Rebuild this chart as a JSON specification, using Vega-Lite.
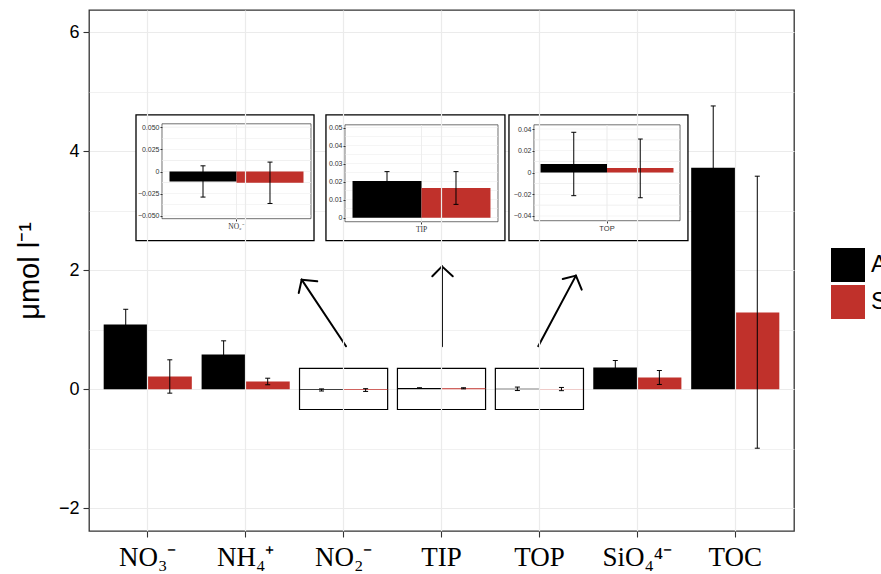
{
  "$schema": "https://vega.github.io/schema/vega-lite/v6.json",
  "width": 705,
  "height": 521,
  "autosize": "none",
  "padding": {"left": 89, "top": 10, "right": 87, "bottom": 43},
  "background": "white",
  "config": {
    "view": {"stroke": "#333333", "strokeWidth": 1.3},
    "font": "Liberation Sans"
  },
  "datasets": {
    "bars": [
      {"cat": "NO₃⁻", "series": "Autumn", "mean": 1.087, "lo": 0.83, "hi": 1.344},
      {"cat": "NO₃⁻", "series": "Spring", "mean": 0.215, "lo": -0.065, "hi": 0.495},
      {"cat": "NH₄⁺", "series": "Autumn", "mean": 0.584, "lo": 0.354, "hi": 0.814},
      {"cat": "NH₄⁺", "series": "Spring", "mean": 0.131, "lo": 0.076, "hi": 0.186},
      {"cat": "NO₂⁻", "series": "Autumn", "mean": -0.0112, "lo": -0.0288, "hi": 0.0064},
      {"cat": "NO₂⁻", "series": "Spring", "mean": -0.0127, "lo": -0.036, "hi": 0.0106},
      {"cat": "TIP", "series": "Autumn", "mean": 0.0204, "lo": 0.0152, "hi": 0.0256},
      {"cat": "TIP", "series": "Spring", "mean": 0.0165, "lo": 0.0074, "hi": 0.0256},
      {"cat": "TOP", "series": "Autumn", "mean": 0.0078, "lo": -0.0213, "hi": 0.037},
      {"cat": "TOP", "series": "Spring", "mean": 0.0041, "lo": -0.0232, "hi": 0.0308},
      {"cat": "SiO₄⁴⁻", "series": "Autumn", "mean": 0.366, "lo": 0.249, "hi": 0.483},
      {"cat": "SiO₄⁴⁻", "series": "Spring", "mean": 0.198, "lo": 0.081, "hi": 0.315},
      {"cat": "TOC", "series": "Autumn", "mean": 3.72, "lo": 2.68, "hi": 4.76},
      {"cat": "TOC", "series": "Spring", "mean": 1.289, "lo": -0.99, "hi": 3.58}
    ],
    "boxes": [
      {"cat": "NO₂⁻", "lo": -0.34, "hi": 0.35},
      {"cat": "TIP", "lo": -0.34, "hi": 0.35},
      {"cat": "TOP", "lo": -0.34, "hi": 0.35}
    ],
    "frames": [
      {"inset": "NO2", "kind": "outer", "x": 0.88, "x2": 2.698, "y": 2.497, "y2": 4.611},
      {"inset": "TIP", "kind": "outer", "x": 2.82, "x2": 4.648, "y": 2.497, "y2": 4.611},
      {"inset": "TOP", "kind": "outer", "x": 4.689, "x2": 6.517, "y": 2.497, "y2": 4.611},
      {"inset": "NO2", "kind": "inner", "x": 1.1455, "x2": 2.667, "y": 2.866, "y2": 4.46},
      {"inset": "TIP", "kind": "inner", "x": 3.014, "x2": 4.577, "y": 2.815, "y2": 4.443},
      {"inset": "TOP", "kind": "inner", "x": 4.944, "x2": 6.436, "y": 2.832, "y2": 4.443}
    ],
    "arrows": [
      {"x": 3.025, "y": 0.723, "x2": 2.572, "y2": 1.842},
      {"x": 2.572, "y": 1.842, "x2": 2.542, "y2": 1.619},
      {"x": 2.572, "y": 1.842, "x2": 2.731, "y2": 1.814},
      {"x": 4.005, "y": 0.723, "x2": 4.005, "y2": 2.065},
      {"x": 4.005, "y": 2.065, "x2": 3.906, "y2": 1.898},
      {"x": 4.005, "y": 2.065, "x2": 4.115, "y2": 1.898},
      {"x": 4.988, "y": 0.723, "x2": 5.373, "y2": 1.909},
      {"x": 5.373, "y": 1.909, "x2": 5.238, "y2": 1.854},
      {"x": 5.373, "y": 1.909, "x2": 5.432, "y2": 1.674}
    ],
    "igrid": [
      {"cat": "NO₂⁻", "v": -0.05}, {"cat": "NO₂⁻", "v": -0.0375}, {"cat": "NO₂⁻", "v": -0.025}, {"cat": "NO₂⁻", "v": -0.0125},
      {"cat": "NO₂⁻", "v": 0}, {"cat": "NO₂⁻", "v": 0.0125}, {"cat": "NO₂⁻", "v": 0.025}, {"cat": "NO₂⁻", "v": 0.0375}, {"cat": "NO₂⁻", "v": 0.05},
      {"cat": "TIP", "v": 0}, {"cat": "TIP", "v": 0.005}, {"cat": "TIP", "v": 0.01}, {"cat": "TIP", "v": 0.015}, {"cat": "TIP", "v": 0.02},
      {"cat": "TIP", "v": 0.025}, {"cat": "TIP", "v": 0.03}, {"cat": "TIP", "v": 0.035}, {"cat": "TIP", "v": 0.04}, {"cat": "TIP", "v": 0.045}, {"cat": "TIP", "v": 0.05},
      {"cat": "TOP", "v": -0.04}, {"cat": "TOP", "v": -0.03}, {"cat": "TOP", "v": -0.02}, {"cat": "TOP", "v": -0.01}, {"cat": "TOP", "v": 0},
      {"cat": "TOP", "v": 0.01}, {"cat": "TOP", "v": 0.02}, {"cat": "TOP", "v": 0.03}, {"cat": "TOP", "v": 0.04}
    ]
  },
  "resolve": {
    "scale": {"x": "independent", "y": "independent", "xOffset": "independent"},
    "axis": {"x": "independent", "y": "independent"}
  },
  "layer": [
    {
      "layer": [
        {
          "data": {"name": "boxes"},
          "mark": {"type": "rect", "fill": "white", "stroke": "black", "strokeWidth": 1.2},
          "encoding": {
            "x": {"field": "cat", "type": "nominal", "sort": null,
              "scale": {"domain": ["NO₃⁻", "NH₄⁺", "NO₂⁻", "TIP", "TOP", "SiO₄⁴⁻", "TOC"], "paddingInner": 0.1, "paddingOuter": 0.15},
              "axis": {"title": null, "domain": false, "grid": true, "gridColor": "#ebebeb", "gridWidth": 1.2, "bandPosition": 0.5,
                "tickSize": 6, "tickColor": "#333333", "tickWidth": 1.1, "labelFont": "Liberation Serif", "labelFontSize": 27,
                "labelColor": "black", "labelPadding": 7, "labelAngle": 0, "labelOverlap": false}},
            "y": {"field": "lo", "type": "quantitative",
              "scale": {"domain": [-2.381, 6.372], "nice": false, "zero": false},
              "axis": {"title": "μmol l⁻¹", "titleFont": "Liberation Sans", "titleFontSize": 29, "titleFontWeight": "normal",
                "titleColor": "black", "titlePadding": 14, "values": [-2, -1, 0, 1, 2, 3, 4, 5, 6],
                "labelExpr": "datum.value % 2 == 0 ? format(datum.value, 'd') : ''", "domain": false, "grid": true,
                "gridColor": "#ebebeb", "gridWidth": {"condition": {"test": "datum.value % 2 != 0", "value": 0.7}, "value": 1.2},
                "tickSize": 6, "tickColor": "#333333", "tickWidth": 1.1,
                "tickOpacity": {"condition": {"test": "datum.value % 2 != 0", "value": 0}, "value": 1},
                "labelFont": "Liberation Sans", "labelFontSize": 18, "labelColor": "black", "labelPadding": 4, "labelOverlap": false}},
            "y2": {"field": "hi"}
          }
        },
        {
          "data": {"name": "bars"},
          "mark": {"type": "bar"},
          "encoding": {
            "x": {"field": "cat", "type": "nominal", "sort": null, "scale": {"domain": ["NO₃⁻", "NH₄⁺", "NO₂⁻", "TIP", "TOP", "SiO₄⁴⁻", "TOC"], "paddingInner": 0.1, "paddingOuter": 0.15}},
            "xOffset": {"field": "series", "type": "nominal"},
            "y": {"field": "mean", "type": "quantitative", "scale": {"domain": [-2.381, 6.372], "nice": false, "zero": false}},
            "color": {"field": "series", "type": "nominal",
              "scale": {"domain": ["Autumn", "Spring"], "range": ["#000000", "#c0312b"]},
              "legend": {"title": null, "orient": "none", "legendX": 742, "legendY": 238, "symbolType": "square",
                "symbolSize": 1156, "symbolStrokeWidth": 0, "symbolOpacity": 1, "labelFontSize": 24,
                "labelFont": "Liberation Sans", "labelColor": "black", "labelOffset": 6, "rowPadding": 3}}
          }
        },
        {
          "data": {"name": "bars"},
          "mark": {"type": "rule", "color": "black", "strokeWidth": 1},
          "encoding": {
            "x": {"field": "cat", "type": "nominal", "sort": null, "scale": {"domain": ["NO₃⁻", "NH₄⁺", "NO₂⁻", "TIP", "TOP", "SiO₄⁴⁻", "TOC"], "paddingInner": 0.1, "paddingOuter": 0.15}},
            "xOffset": {"field": "series", "type": "nominal"},
            "y": {"field": "lo", "type": "quantitative", "scale": {"domain": [-2.381, 6.372], "nice": false, "zero": false}},
            "y2": {"field": "hi"}
          }
        },
        {
          "data": {"name": "bars"},
          "mark": {"type": "tick", "color": "black", "size": 5, "thickness": 1, "opacity": 1},
          "encoding": {
            "x": {"field": "cat", "type": "nominal", "sort": null, "scale": {"domain": ["NO₃⁻", "NH₄⁺", "NO₂⁻", "TIP", "TOP", "SiO₄⁴⁻", "TOC"], "paddingInner": 0.1, "paddingOuter": 0.15}},
            "xOffset": {"field": "series", "type": "nominal"},
            "y": {"field": "lo", "type": "quantitative", "scale": {"domain": [-2.381, 6.372], "nice": false, "zero": false}}
          }
        },
        {
          "data": {"name": "bars"},
          "mark": {"type": "tick", "color": "black", "size": 5, "thickness": 1, "opacity": 1},
          "encoding": {
            "x": {"field": "cat", "type": "nominal", "sort": null, "scale": {"domain": ["NO₃⁻", "NH₄⁺", "NO₂⁻", "TIP", "TOP", "SiO₄⁴⁻", "TOC"], "paddingInner": 0.1, "paddingOuter": 0.15}},
            "xOffset": {"field": "series", "type": "nominal"},
            "y": {"field": "hi", "type": "quantitative", "scale": {"domain": [-2.381, 6.372], "nice": false, "zero": false}}
          }
        }
      ]
    },
    {
      "layer": [
        {
          "data": {"name": "frames"},
          "transform": [{"filter": {"field": "kind", "equal": "outer"}}],
          "mark": {"type": "rect", "fill": "white", "stroke": "black", "strokeWidth": 1.3},
          "encoding": {
            "x": {"field": "x", "type": "quantitative", "scale": {"domain": [0.4, 7.6], "nice": false, "zero": false}, "axis": null},
            "x2": {"field": "x2"},
            "y": {"field": "y", "type": "quantitative", "scale": {"domain": [-2.381, 6.372], "nice": false, "zero": false}, "axis": null},
            "y2": {"field": "y2"}
          }
        },
        {
          "data": {"name": "frames"},
          "transform": [{"filter": {"field": "kind", "equal": "inner"}}],
          "mark": {"type": "rect", "fill": "white", "stroke": "#333333", "strokeWidth": 0.7},
          "encoding": {
            "x": {"field": "x", "type": "quantitative", "scale": {"domain": [0.4, 7.6], "nice": false, "zero": false}, "axis": null},
            "x2": {"field": "x2"},
            "y": {"field": "y", "type": "quantitative", "scale": {"domain": [-2.381, 6.372], "nice": false, "zero": false}, "axis": null},
            "y2": {"field": "y2"}
          }
        },
        {
          "data": {"name": "arrows"},
          "mark": {"type": "rule", "color": "black", "strokeWidth": 2, "strokeCap": "round"},
          "encoding": {
            "x": {"field": "x", "type": "quantitative", "scale": {"domain": [0.4, 7.6], "nice": false, "zero": false}, "axis": null},
            "x2": {"field": "x2"},
            "y": {"field": "y", "type": "quantitative", "scale": {"domain": [-2.381, 6.372], "nice": false, "zero": false}, "axis": null},
            "y2": {"field": "y2"}
          }
        }
      ]
    },
    {
      "layer": [
        {
          "data": {"name": "igrid"},
          "transform": [{"filter": {"field": "cat", "equal": "NO₂⁻"}}],
          "mark": {"type": "tick", "color": "#ebebeb", "size": 149, "thickness": 0.6, "opacity": 1},
          "encoding": {
            "x": {"field": "cat", "type": "nominal", "scale": {"domain": ["NO₂⁻"], "range": [73, 222], "paddingInner": 0, "paddingOuter": 0},
              "axis": {"orient": "bottom", "offset": -312, "domain": false, "grid": false, "tickSize": 2, "tickColor": "#333333",
                "labelFont": "Liberation Serif", "labelFontSize": 7.5, "labelColor": "#333333", "labelPadding": 1, "labelAngle": 0, "title": null, "zindex": 1}},
            "y": {"field": "v", "type": "quantitative", "scale": {"domain": [-0.0535, 0.0535], "range": [209, 114], "nice": false, "zero": false},
              "axis": {"orient": "left", "offset": -73, "values": [-0.05, -0.025, 0, 0.025, 0.05],
                "labelExpr": "datum.value == 0 ? '0' : format(datum.value, '.3f')", "domain": false, "grid": false,
                "tickSize": 2, "tickColor": "#333333", "labelFontSize": 7, "labelColor": "#333333", "labelPadding": 1,
                "labelOverlap": false, "title": null, "zindex": 1}}
          }
        },
        {
          "data": {"name": "bars"},
          "transform": [{"filter": {"field": "cat", "equal": "NO₂⁻"}}],
          "mark": {"type": "rule", "color": "#ebebeb", "strokeWidth": 0.6},
          "encoding": {
            "x": {"field": "cat", "type": "nominal"},
            "y": {"datum": -0.0535, "type": "quantitative"},
            "y2": {"datum": 0.0535}
          }
        },
        {
          "data": {"name": "bars"},
          "transform": [{"filter": {"field": "cat", "equal": "NO₂⁻"}}],
          "mark": {"type": "bar"},
          "encoding": {
            "x": {"field": "cat", "type": "nominal"},
            "xOffset": {"field": "series", "type": "nominal", "scale": {"paddingInner": 0, "paddingOuter": 0.112}},
            "y": {"field": "mean", "type": "quantitative"},
            "color": {"field": "series", "type": "nominal", "legend": null}
          }
        },
        {
          "data": {"name": "bars"},
          "transform": [{"filter": {"field": "cat", "equal": "NO₂⁻"}}],
          "mark": {"type": "rule", "color": "black", "strokeWidth": 1},
          "encoding": {
            "x": {"field": "cat", "type": "nominal"},
            "xOffset": {"field": "series", "type": "nominal"},
            "y": {"field": "lo", "type": "quantitative"},
            "y2": {"field": "hi"}
          }
        },
        {
          "data": {"name": "bars"},
          "transform": [{"filter": {"field": "cat", "equal": "NO₂⁻"}}],
          "mark": {"type": "tick", "color": "black", "size": 5, "thickness": 1, "opacity": 1},
          "encoding": {
            "x": {"field": "cat", "type": "nominal"},
            "xOffset": {"field": "series", "type": "nominal"},
            "y": {"field": "lo", "type": "quantitative"}
          }
        },
        {
          "data": {"name": "bars"},
          "transform": [{"filter": {"field": "cat", "equal": "NO₂⁻"}}],
          "mark": {"type": "tick", "color": "black", "size": 5, "thickness": 1, "opacity": 1},
          "encoding": {
            "x": {"field": "cat", "type": "nominal"},
            "xOffset": {"field": "series", "type": "nominal"},
            "y": {"field": "hi", "type": "quantitative"}
          }
        }
      ]
    },
    {
      "layer": [
        {
          "data": {"name": "igrid"},
          "transform": [{"filter": {"field": "cat", "equal": "TIP"}}],
          "mark": {"type": "tick", "color": "#ebebeb", "size": 153, "thickness": 0.6, "opacity": 1},
          "encoding": {
            "x": {"field": "cat", "type": "nominal", "scale": {"domain": ["TIP"], "range": [256, 409], "paddingInner": 0, "paddingOuter": 0},
              "axis": {"orient": "bottom", "offset": -309, "domain": false, "grid": false, "tickSize": 2, "tickColor": "#333333",
                "labelFont": "Liberation Serif", "labelFontSize": 7.5, "labelColor": "#333333", "labelPadding": 1, "labelAngle": 0, "title": null, "zindex": 1}},
            "y": {"field": "v", "type": "quantitative", "scale": {"domain": [-0.0024, 0.0515], "range": [212, 115], "nice": false, "zero": false},
              "axis": {"orient": "left", "offset": -256, "values": [0, 0.01, 0.02, 0.03, 0.04, 0.05],
                "labelExpr": "datum.value == 0 ? '0' : format(datum.value, '.2f')", "domain": false, "grid": false,
                "tickSize": 2, "tickColor": "#333333", "labelFontSize": 7, "labelColor": "#333333", "labelPadding": 1,
                "labelOverlap": false, "title": null, "zindex": 1}}
          }
        },
        {
          "data": {"name": "bars"},
          "transform": [{"filter": {"field": "cat", "equal": "TIP"}}],
          "mark": {"type": "rule", "color": "#ebebeb", "strokeWidth": 0.6},
          "encoding": {
            "x": {"field": "cat", "type": "nominal"},
            "y": {"datum": -0.0024, "type": "quantitative"},
            "y2": {"datum": 0.0515}
          }
        },
        {
          "data": {"name": "bars"},
          "transform": [{"filter": {"field": "cat", "equal": "TIP"}}],
          "mark": {"type": "bar"},
          "encoding": {
            "x": {"field": "cat", "type": "nominal"},
            "xOffset": {"field": "series", "type": "nominal", "scale": {"paddingInner": 0, "paddingOuter": 0.109}},
            "y": {"field": "mean", "type": "quantitative"},
            "color": {"field": "series", "type": "nominal", "legend": null}
          }
        },
        {
          "data": {"name": "bars"},
          "transform": [{"filter": {"field": "cat", "equal": "TIP"}}],
          "mark": {"type": "rule", "color": "black", "strokeWidth": 1},
          "encoding": {
            "x": {"field": "cat", "type": "nominal"},
            "xOffset": {"field": "series", "type": "nominal"},
            "y": {"field": "lo", "type": "quantitative"},
            "y2": {"field": "hi"}
          }
        },
        {
          "data": {"name": "bars"},
          "transform": [{"filter": {"field": "cat", "equal": "TIP"}}],
          "mark": {"type": "tick", "color": "black", "size": 5, "thickness": 1, "opacity": 1},
          "encoding": {
            "x": {"field": "cat", "type": "nominal"},
            "xOffset": {"field": "series", "type": "nominal"},
            "y": {"field": "lo", "type": "quantitative"}
          }
        },
        {
          "data": {"name": "bars"},
          "transform": [{"filter": {"field": "cat", "equal": "TIP"}}],
          "mark": {"type": "tick", "color": "black", "size": 5, "thickness": 1, "opacity": 1},
          "encoding": {
            "x": {"field": "cat", "type": "nominal"},
            "xOffset": {"field": "series", "type": "nominal"},
            "y": {"field": "hi", "type": "quantitative"}
          }
        }
      ]
    },
    {
      "layer": [
        {
          "data": {"name": "igrid"},
          "transform": [{"filter": {"field": "cat", "equal": "TOP"}}],
          "mark": {"type": "tick", "color": "#ebebeb", "size": 146, "thickness": 0.6, "opacity": 1},
          "encoding": {
            "x": {"field": "cat", "type": "nominal", "scale": {"domain": ["TOP"], "range": [445, 591], "paddingInner": 0, "paddingOuter": 0},
              "axis": {"orient": "bottom", "offset": -310, "domain": false, "grid": false, "tickSize": 2, "tickColor": "#333333",
                "labelFont": "Liberation Sans", "labelFontSize": 7.5, "labelColor": "#333333", "labelPadding": 1, "labelAngle": 0, "title": null, "zindex": 1}},
            "y": {"field": "v", "type": "quantitative", "scale": {"domain": [-0.0446, 0.0437], "range": [211, 115], "nice": false, "zero": false},
              "axis": {"orient": "left", "offset": -445, "values": [-0.04, -0.02, 0, 0.02, 0.04],
                "labelExpr": "datum.value == 0 ? '0' : format(datum.value, '.2f')", "domain": false, "grid": false,
                "tickSize": 2, "tickColor": "#333333", "labelFontSize": 7, "labelColor": "#333333", "labelPadding": 1,
                "labelOverlap": false, "title": null, "zindex": 1}}
          }
        },
        {
          "data": {"name": "bars"},
          "transform": [{"filter": {"field": "cat", "equal": "TOP"}}],
          "mark": {"type": "rule", "color": "#ebebeb", "strokeWidth": 0.6},
          "encoding": {
            "x": {"field": "cat", "type": "nominal"},
            "y": {"datum": -0.0446, "type": "quantitative"},
            "y2": {"datum": 0.0437}
          }
        },
        {
          "data": {"name": "bars"},
          "transform": [{"filter": {"field": "cat", "equal": "TOP"}}],
          "mark": {"type": "bar"},
          "encoding": {
            "x": {"field": "cat", "type": "nominal"},
            "xOffset": {"field": "series", "type": "nominal", "scale": {"paddingInner": 0, "paddingOuter": 0.098}},
            "y": {"field": "mean", "type": "quantitative"},
            "color": {"field": "series", "type": "nominal", "legend": null}
          }
        },
        {
          "data": {"name": "bars"},
          "transform": [{"filter": {"field": "cat", "equal": "TOP"}}],
          "mark": {"type": "rule", "color": "black", "strokeWidth": 1},
          "encoding": {
            "x": {"field": "cat", "type": "nominal"},
            "xOffset": {"field": "series", "type": "nominal"},
            "y": {"field": "lo", "type": "quantitative"},
            "y2": {"field": "hi"}
          }
        },
        {
          "data": {"name": "bars"},
          "transform": [{"filter": {"field": "cat", "equal": "TOP"}}],
          "mark": {"type": "tick", "color": "black", "size": 5, "thickness": 1, "opacity": 1},
          "encoding": {
            "x": {"field": "cat", "type": "nominal"},
            "xOffset": {"field": "series", "type": "nominal"},
            "y": {"field": "lo", "type": "quantitative"}
          }
        },
        {
          "data": {"name": "bars"},
          "transform": [{"filter": {"field": "cat", "equal": "TOP"}}],
          "mark": {"type": "tick", "color": "black", "size": 5, "thickness": 1, "opacity": 1},
          "encoding": {
            "x": {"field": "cat", "type": "nominal"},
            "xOffset": {"field": "series", "type": "nominal"},
            "y": {"field": "hi", "type": "quantitative"}
          }
        }
      ]
    }
  ]
}
